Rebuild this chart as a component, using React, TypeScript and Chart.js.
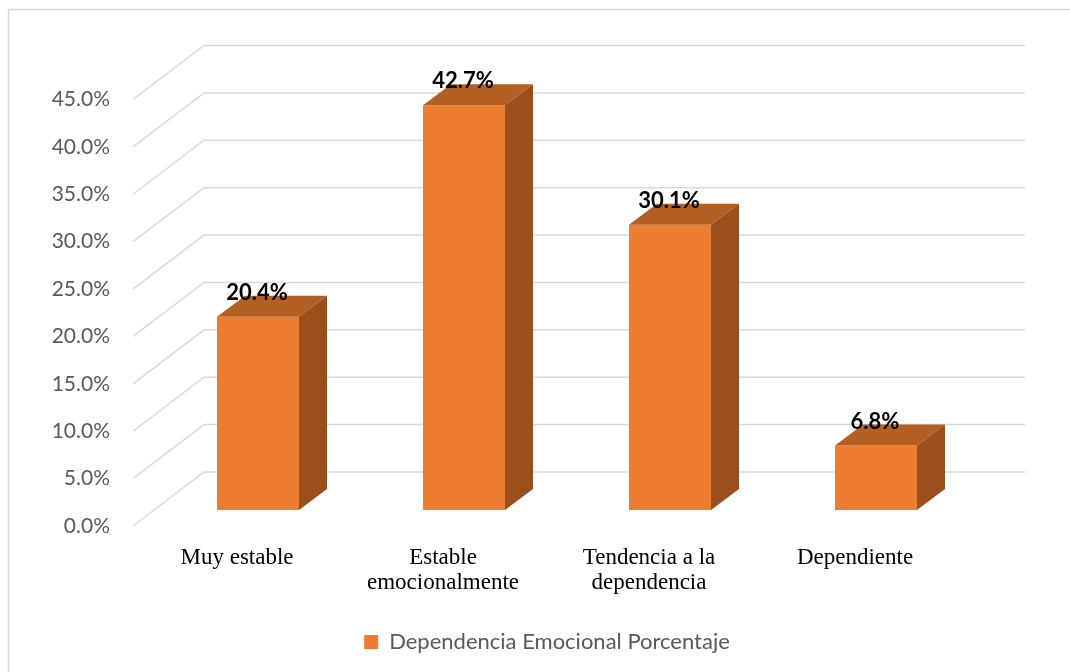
import React, { useEffect, useRef } from "react";
import { Chart, registerables } from "chart.js";

Chart.register(...registerables);

const categories: string[][] = [
  ["Muy estable"],
  ["Estable", "emocionalmente"],
  ["Tendencia a la", "dependencia"],
  ["Dependiente"],
];
const seriesLabel = "Dependencia Emocional Porcentaje";
const values: number[] = [20.4, 42.7, 30.1, 6.8];
const yMin = 0;
const yMax = 45;
const yStep = 5;

const FRONT = "#ed7d31";
const TOP = "#b45f23";
const SIDE = "#9a4f1d";
const GRID = "#d9d9d9";
const TEXT_GRAY = "#595959";
const SANS = "Lato, 'Open Sans', sans-serif";
const SERIF = "'Liberation Serif', 'DejaVu Serif', serif";

const BAR_DX = 28;
const BAR_DY = 21;

const framePlugin = {
  id: "frame",
  beforeDraw(chart: any) {
    const ctx = chart.ctx;
    ctx.save();
    ctx.strokeStyle = GRID;
    ctx.lineWidth = 1.5;
    ctx.beginPath();
    ctx.moveTo(8.5, chart.height);
    ctx.lineTo(8.5, 9.5);
    ctx.lineTo(chart.width, 9.5);
    ctx.stroke();
    ctx.restore();
  },
};

const gridPlugin = {
  id: "grid3d",
  beforeDatasetsDraw(chart: any) {
    const ctx = chart.ctx;
    const y = chart.scales.y;
    const { left, right } = chart.chartArea;
    ctx.save();
    ctx.strokeStyle = GRID;
    ctx.lineWidth = 1.5;
    y.ticks.forEach((t: any) => {
      const py = y.getPixelForValue(t.value);
      ctx.beginPath();
      ctx.moveTo(left - 22, py + 16);
      ctx.lineTo(left + 49, py - 38);
      ctx.lineTo(right + 46, py - 38);
      ctx.stroke();
    });
    ctx.restore();
  },
};

const bar3dPlugin = {
  id: "bar3d",
  afterDatasetsDraw(chart: any) {
    const ctx = chart.ctx;
    const meta = chart.getDatasetMeta(0);
    ctx.save();
    meta.data.forEach((bar: any) => {
      const { x, y, base, width } = bar.getProps(["x", "y", "base", "width"], true);
      const l = x - width / 2;
      const r = x + width / 2;
      ctx.fillStyle = TOP;
      ctx.beginPath();
      ctx.moveTo(l, y);
      ctx.lineTo(l + BAR_DX, y - BAR_DY);
      ctx.lineTo(r + BAR_DX, y - BAR_DY);
      ctx.lineTo(r, y);
      ctx.closePath();
      ctx.fill();
      ctx.fillStyle = SIDE;
      ctx.beginPath();
      ctx.moveTo(r, y);
      ctx.lineTo(r + BAR_DX, y - BAR_DY);
      ctx.lineTo(r + BAR_DX, base - BAR_DY);
      ctx.lineTo(r, base);
      ctx.closePath();
      ctx.fill();
    });
    ctx.fillStyle = "#000000";
    ctx.font = `bold 22px ${SANS}`;
    ctx.textAlign = "center";
    ctx.textBaseline = "middle";
    meta.data.forEach((bar: any, i: number) => {
      const { x, y } = bar.getProps(["x", "y"], true);
      ctx.fillText(values[i].toFixed(1) + "%", x - 1, y - 24);
    });
    ctx.restore();
  },
};

export default function App() {
  const ref = useRef<HTMLCanvasElement | null>(null);
  useEffect(() => {
    if (!ref.current) return;
    const chart = new Chart(ref.current, {
      type: "bar",
      data: {
        labels: categories,
        datasets: [
          {
            label: seriesLabel,
            data: values,
            backgroundColor: FRONT,
            borderWidth: 0,
            categoryPercentage: 1,
            barPercentage: 0.398,
          },
        ],
      },
      options: {
        responsive: false,
        animation: false,
        layout: { padding: { top: 83.5, left: 24, right: 0, bottom: 9 } },
        plugins: {
          tooltip: { enabled: false },
          legend: {
            position: "bottom",
            labels: {
              boxWidth: 14,
              boxHeight: 14,
              color: TEXT_GRAY,
              font: { family: SANS, size: 22 },
              generateLabels: () => [
                {
                  text: seriesLabel,
                  fillStyle: FRONT,
                  strokeStyle: FRONT,
                  lineWidth: 0,
                  datasetIndex: 0,
                  fontColor: TEXT_GRAY,
                },
              ],
            },
          },
        },
        scales: {
          x: {
            grid: { display: false, drawTicks: false },
            border: { display: false },
            afterFit: (s: any) => {
              s.height = 111;
            },
            ticks: {
              color: "#000000",
              font: { family: SERIF, size: 23, lineHeight: 1.1 },
              padding: 35,
              labelOffset: -21,
              maxRotation: 0,
              autoSkip: false,
            },
          },
          y: {
            min: yMin,
            max: yMax,
            grid: { display: false, drawTicks: false },
            border: { display: false },
            afterFit: (s: any) => {
              s.width = 131;
            },
            ticks: {
              stepSize: yStep,
              color: TEXT_GRAY,
              font: { family: SANS, size: 21 },
              padding: 45,
              labelOffset: 16,
              callback: (v: any) => Number(v).toFixed(1) + "%",
            },
          },
          yRight: {
            position: "right",
            display: true,
            grid: { display: false, drawTicks: false },
            border: { display: false },
            ticks: { display: false },
            afterFit: (s: any) => {
              s.width = 91;
            },
          },
        },
      },
      plugins: [framePlugin, gridPlugin, bar3dPlugin],
    });
    return () => chart.destroy();
  }, []);
  return (
    <div style={{ position: "fixed", left: 0, top: 0, width: 1070, height: 672, background: "#fff" }}>
      <canvas ref={ref} width={1070} height={672} style={{ display: "block" }} />
    </div>
  );
}
